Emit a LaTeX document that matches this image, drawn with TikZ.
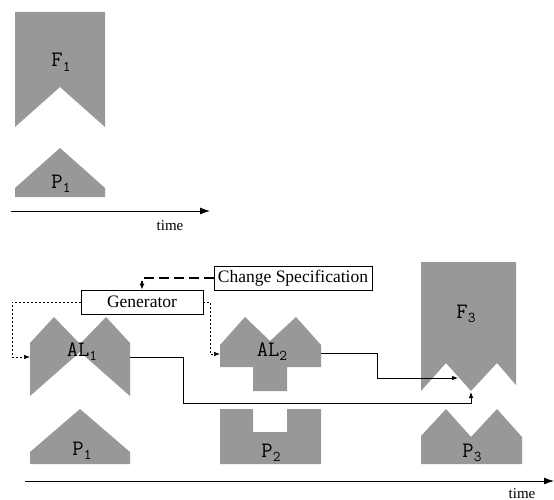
\documentclass[tikz,border=0pt]{standalone}
\usepackage{fontspec}
\setmainfont{Liberation Serif}
\usetikzlibrary{arrows.meta}
\definecolor{shapegray}{RGB}{152,152,152}
\newcommand{\shplab}[2]{{\ttfamily\fontsize{22}{22}\selectfont #1\raisebox{-0.45ex}{\fontsize{15}{15}\selectfont #2}}}
\tikzset{
  shp/.style={fill=shapegray, draw=none},
  lab/.style={anchor=base, inner sep=0pt},
  boxn/.style={draw, line width=0.8pt, inner sep=0pt, font=\fontsize{17.5}{18}\selectfont},
  conn/.style={line width=0.8pt, -{Latex[length=6pt,width=4.5pt]}},
  dotconn/.style={line width=0.6pt, dash pattern=on 2pt off 2pt, -{Latex[length=6pt,width=4.5pt]}},
  dashconn/.style={line width=1.5pt, dash pattern=on 10pt off 5pt, -{Latex[length=6pt,width=5pt]}},
  timearrow/.style={line width=0.9pt, -{Latex[length=10pt,width=7pt]}},
  timelab/.style={anchor=base, inner sep=0pt, font=\fontsize{15}{15}\selectfont}
}
\begin{document}
\begin{tikzpicture}[x=1pt,y=-1pt]
\useasboundingbox (0,0) rectangle (554,500);
% ---- top part ----
\fill[shp] (15,12) -- (105,12) -- (105,127) -- (60,87) -- (15,127) -- cycle;
\node[lab] (f1) at (61,67) {\shplab{F}{1}};
\fill[shp] (15,197) -- (15,188) -- (60,148) -- (105,188) -- (105,197) -- cycle;
\node[lab] (p1a) at (61,188) {\shplab{P}{1}};
\coordinate (t1s) at (11,211);
\coordinate (t1e) at (210,211);
\draw[timearrow] (t1s) -- (t1e);
\node[timelab] (time1) at (170,230) {time};
% ---- bottom part ----
% AL1
\fill[shp] (30,343) -- (54,317) -- (80,344) -- (106,317) -- (130,343) -- (130,396) -- (80,352) -- (30,396) -- cycle;
\node[lab] (al1) at (82,356) {\shplab{AL}{1}};
% AL2
\fill[shp] (220,345) -- (245,317) -- (270,341) -- (296,317) -- (321,345) -- (321,367) -- (287,367) -- (287,391) -- (253,391) -- (253,367) -- (220,367) -- cycle;
\node[lab] (al2) at (272,356) {\shplab{AL}{2}};
% F3
\fill[shp] (421,262) -- (516,262) -- (516,385) -- (497,363) -- (471,391) -- (446,363) -- (421,391) -- cycle;
\node[lab] (f3) at (466,318) {\shplab{F}{3}};
% P1
\fill[shp] (30,464) -- (30,452) -- (80,409) -- (130,452) -- (130,464) -- cycle;
\node[lab] (p1b) at (82,455) {\shplab{P}{1}};
% P2
\fill[shp] (220,409) -- (253,409) -- (253,432) -- (287,432) -- (287,409) -- (321,409) -- (321,464) -- (220,464) -- cycle;
\node[lab] (p2) at (271,457) {\shplab{P}{2}};
% P3
\fill[shp] (421,464) -- (421,436) -- (446,409) -- (471,437) -- (497,409) -- (522,437) -- (522,464) -- cycle;
\node[lab] (p3) at (472,457) {\shplab{P}{3}};
% boxes
\node[boxn, minimum width=122pt, minimum height=24pt] (gen) at (142,302) {Generator};
\node[boxn, minimum width=158pt, minimum height=24pt] (cs) at (293,278) {Change Specification};
% ports
\coordinate (al1w) at (30,357);
\coordinate (al1e) at (130,357);
\coordinate (al2w) at (220,354);
\coordinate (al2e) at (321,353);
\coordinate (f3a) at (458,378);
\coordinate (f3b) at (471,392);
\coordinate (d1) at (12,357);
\coordinate (d2) at (210,354);
\coordinate (k1) at (183,357);
\coordinate (k2) at (183,403);
\coordinate (k3) at (471,403);
\coordinate (k4) at (377,353);
\coordinate (k5) at (377,378);
% connectors
\draw[dashconn] (cs.west) -| (gen.north);
\draw[dotconn] (gen.west) -| (d1) -- (al1w);
\draw[dotconn] (gen.east) -| (d2) -- (al2w);
\draw[conn] (al1e) -- (k1) -- (k2) -- (k3) -- (f3b);
\draw[conn] (al2e) -- (k4) -- (k5) -- (f3a);
% time axis
\coordinate (t2s) at (25,481);
\coordinate (t2e) at (554,481);
\draw[timearrow] (t2s) -- (t2e);
\node[timelab] (time2) at (522,498) {time};
\end{tikzpicture}
\end{document}
